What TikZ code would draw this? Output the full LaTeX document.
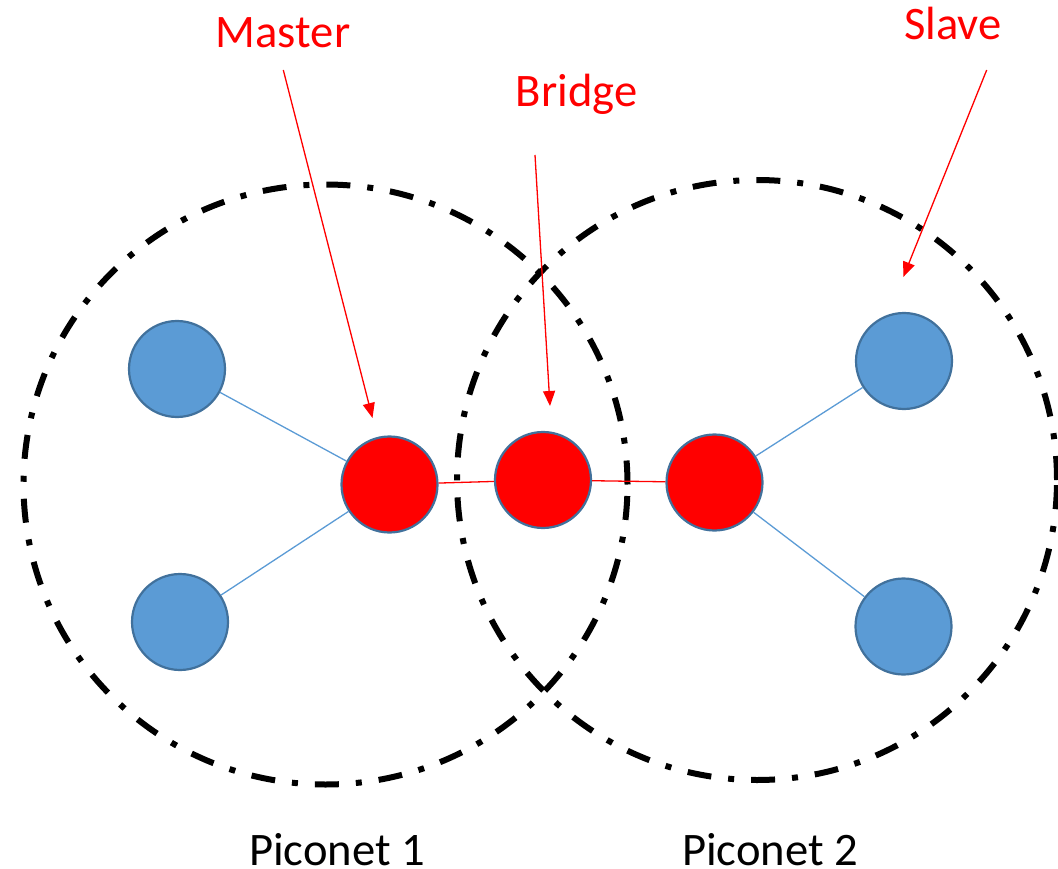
\documentclass[tikz,border=0pt]{standalone}
\usepackage{fontspec}
\setmainfont{Carlito}
\usetikzlibrary{shapes.geometric,arrows.meta}
\definecolor{nodeblue}{HTML}{5B9BD5}
\definecolor{rimblue}{HTML}{41719C}
\definecolor{pure red}{HTML}{FF0000}
\tikzset{
  piconet/.style={draw=black, ellipse, line width=6pt,
    dash pattern=on 24pt off 17pt on 6pt off 17pt, inner sep=0pt},
  slavedev/.style={circle, fill=nodeblue, draw=rimblue, line width=2.2pt,
    minimum size=96pt, inner sep=0pt},
  masterdev/.style={slavedev, fill=pure red},
  bluelink/.style={draw=nodeblue, line width=1.3pt},
  redlink/.style={draw=pure red, line width=1.3pt},
  pointer/.style={draw=pure red, line width=1.3pt,
    -{Triangle[length=15pt,width=12pt]}, fill=pure red},
  tag/.style={text=pure red, font=\fontsize{46.6pt}{56pt}\selectfont, anchor=base, inner sep=0pt},
  caption/.style={text=black, font=\fontsize{46.6pt}{56pt}\selectfont, anchor=base, inner sep=0pt}
}
\begin{document}
\begin{tikzpicture}[x=1pt, y=-1pt]
\useasboundingbox (0,0) rectangle (1058,869);

% the two piconet ranges
\node[piconet, minimum width=604pt, minimum height=600pt] (pn1) at (325.5,484.5) {};
\node[piconet, minimum width=600pt, minimum height=600pt] (pn2) at (757,480) {};

% devices
\node[slavedev] (s1) at (177,369) {};
\node[slavedev] (s2) at (180,622) {};
\node[slavedev] (s3) at (904,361) {};
\node[slavedev] (s4) at (903.5,626.5) {};
\node[masterdev] (m1) at (389.5,484.5) {};
\node[masterdev] (br) at (543,480) {};
\node[masterdev] (m2) at (714.5,482.5) {};

% links
\draw[bluelink] (s1) -- (m1);
\draw[bluelink] (s2) -- (m1);
\draw[bluelink] (s3) -- (m2);
\draw[bluelink] (s4) -- (m2);
\draw[redlink] (m1) -- (br);
\draw[redlink] (br) -- (m2);

% role labels
\node[tag] (lmaster) at (283,48) {Master};
\node[tag] (lbridge) at (576.5,107) {Bridge};
\node[tag] (lslave) at (953,40) {Slave};
\coordinate (pm0) at (283.3,70);
\coordinate (pm1) at (372.5,418);
\coordinate (pb0) at (535,155);
\coordinate (pb1) at (550,406);
\coordinate (ps0) at (986.7,70);
\coordinate (ps1) at (903.3,277);
\draw[pointer] (pm0) -- (pm1);
\draw[pointer] (pb0) -- (pb1);
\draw[pointer] (ps0) -- (ps1);

% piconet captions
\node[caption] (c1) at (337,865) {Piconet 1};
\node[caption] (c2) at (770,865) {Piconet 2};
\end{tikzpicture}
\end{document}
